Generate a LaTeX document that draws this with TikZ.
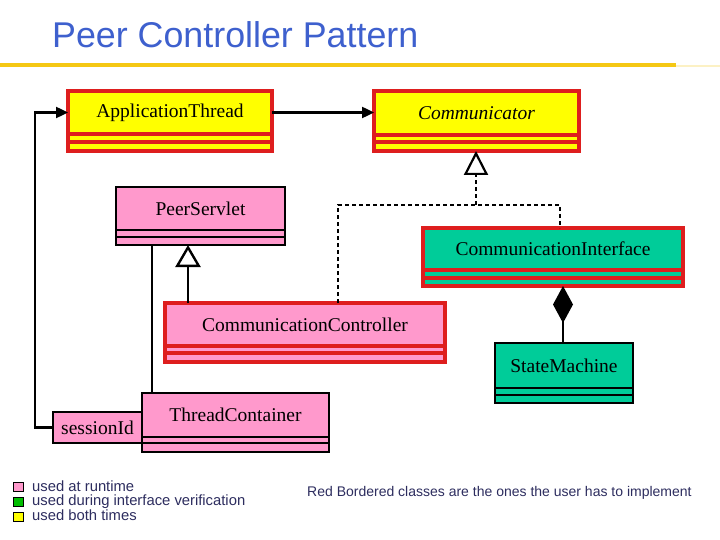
\documentclass[tikz,border=0pt]{standalone}
\usepackage{fontspec}
\setmainfont{Liberation Serif}
\newfontfamily\arialf{Liberation Sans}
\usetikzlibrary{arrows.meta}
\definecolor{pinkc}{RGB}{255,153,204}
\definecolor{greenc}{RGB}{0,204,153}
\definecolor{yellowc}{RGB}{255,255,0}
\definecolor{redb}{RGB}{222,30,30}
\definecolor{titleblue}{RGB}{62,96,206}
\definecolor{goldc}{RGB}{245,200,20}
\definecolor{navyc}{RGB}{45,45,95}
\definecolor{legendgreen}{RGB}{0,190,0}
\tikzset{
  classbox/.style={rectangle,inner sep=0pt,outer sep=0pt},
  redcls/.style={draw=redb,line width=3.3pt},
  blackcls/.style={draw=black,line width=2.6pt},
  classtext/.style={inner sep=0pt,font=\fontsize{19.5}{22}\selectfont},
  conn/.style={draw=black,line width=2.4pt},
  dashconn/.style={draw=black,line width=1.8pt,dash pattern=on 4pt off 3pt},
  legsq/.style={draw=black,line width=0.8pt,minimum size=9.5pt,inner sep=0pt},
  legtext/.style={inner sep=0pt,anchor=base west,text=navyc,font=\arialf\fontsize{14.8}{16}\selectfont},
  notetext/.style={inner sep=0pt,anchor=west,text=navyc,font=\arialf\fontsize{14}{16}\selectfont},
}
% name, left, top, right, bottom, line1, line2, style, text
\newcommand{\umlclass}[9]{%
  \node[classbox,#8,minimum width={(#4-#2)*1pt},minimum height={(#5-#3)*1pt},anchor=north west] (#1) at (#2,#3) {};
  \draw[#8] (#2,#6) -- (#4,#6);
  \draw[#8] (#2,#7) -- (#4,#7);
  \node[classtext] (#1-label) at ({(#2+#4)/2},{(#3+#6)/2}) {#9};
}
\begin{document}
\begin{tikzpicture}[x=1pt,y=-1pt]
\useasboundingbox (0,0) rectangle (720,540);
\fill[white] (0,0) rectangle (720,540);
% title
\node[inner sep=0pt,anchor=base west,text=titleblue,font=\arialf\fontsize{35.8}{40}\selectfont] (title) at (52,47.5) {Peer Controller Pattern};
\draw[goldc,line width=3.6pt] (0,65) -- (676,65);
\draw[goldc!25,line width=1.5pt] (676,66) -- (720,66);
% classes
\umlclass{app}{68}{91}{272}{151}{134}{142}{fill=yellowc,redcls}{ApplicationThread}
\umlclass{comm}{374}{91}{579}{151}{135}{142}{fill=yellowc,redcls}{\itshape Communicator}
\umlclass{ps}{116}{187}{285}{245}{230}{237}{fill=pinkc,blackcls}{PeerServlet}
\umlclass{ci}{423}{228}{683}{286}{270}{278}{fill=greenc,redcls}{CommunicationInterface}
\umlclass{cc}{165}{303}{445}{362}{346}{353}{fill=pinkc,redcls}{CommunicationController}
\umlclass{sm}{495}{343}{633}{403}{388}{395}{fill=greenc,blackcls}{StateMachine}
\node[classbox,fill=pinkc,blackcls,minimum width=89pt,minimum height=31pt,anchor=north west] (sid) at (53,412) {};
\node[classtext] (sid-label) at (97.5,428) {sessionId};
\umlclass{tc}{142}{393}{329}{452}{437}{443}{fill=pinkc,blackcls}{ThreadContainer}
% connectors
\coordinate (xagg) at (152,0);
\coordinate (xgen) at (188,0);
\coordinate (xreal) at (338,0);
\coordinate (xci) at (560,0);
\coordinate (xcomp) at (563,0);
\coordinate (junc) at (476,205);
\coordinate (leftx) at (35,0);
\draw[conn,-{Triangle[length=12pt,width=11pt]}] (app.east |- app-label) -- (comm.west |- app-label);
\draw[conn,-{Triangle[length=12pt,width=11pt]}] (sid.west) -- (sid.west -| leftx) |- (app.west |- app-label);
\draw[conn] (ps.south -| xagg) -- (tc.north -| xagg);
\draw[conn,-{Triangle[open,length=22pt,width=25pt,fill=white]}] (cc.north -| xgen) -- (ps.south -| xgen);
\draw[dashconn] (cc.north -| xreal) |- (junc) -| (ci.north -| xci);
\draw[dashconn,-{Triangle[open,length=24pt,width=24pt,fill=white,line width=2.2pt]}] (junc) -- (comm.south -| junc);
\draw[conn,-{Diamond[length=37pt,width=20pt]}] (sm.north -| xcomp) -- (ci.south -| xcomp);
% legend
\node[legsq,fill=pinkc] (sq1) at (18.5,487) {};
\node[legsq,fill=legendgreen] (sq2) at (18.5,501.7) {};
\node[legsq,fill=yellowc] (sq3) at (18.5,516.7) {};
\node[legtext] (lt1) at (32,491) {used at runtime};
\node[legtext] (lt2) at (32,505.7) {used during interface verification};
\node[legtext] (lt3) at (32,520.7) {used both times};
\node[notetext] (note) at (307,493) {Red Bordered classes are the ones the user has to implement};
\end{tikzpicture}
\end{document}
